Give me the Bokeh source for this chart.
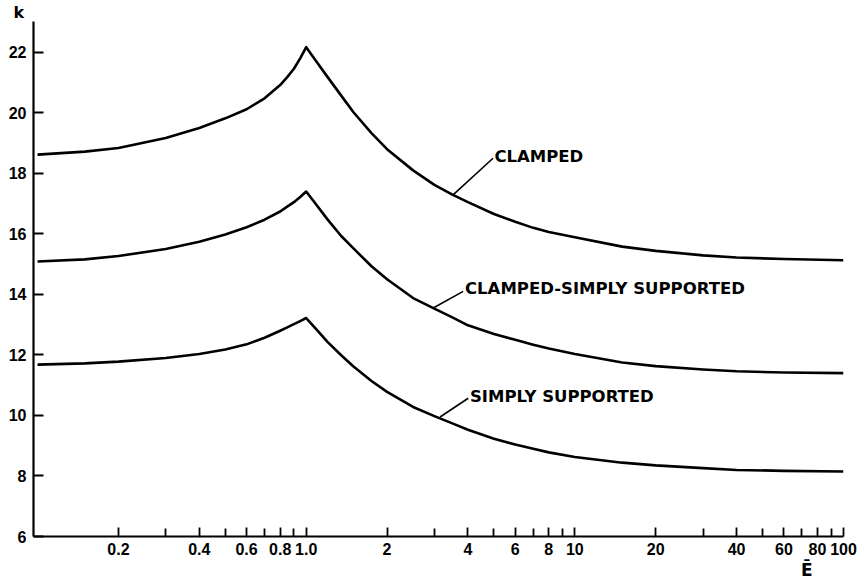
from bokeh.plotting import figure
from bokeh.models import FixedTicker, Label, Range1d, ColumnDataSource, Title
from bokeh.embed import file_html
from bokeh.resources import INLINE

# ---- data ----
E = [0.1, 0.15, 0.2, 0.3, 0.4, 0.5, 0.6, 0.7, 0.8, 0.85, 0.9, 0.95, 1.0,
     1.1, 1.2, 1.35, 1.5, 1.75, 2.0, 2.5, 3.0, 3.5, 4.0, 5.0, 6.0, 7.0, 8.0,
     10, 15, 20, 30, 40, 60, 100]
k_clamped = [18.62, 18.72, 18.84, 19.17, 19.5, 19.82, 20.12, 20.48, 20.92, 21.18, 21.46, 21.8, 22.17,
             21.66, 21.19, 20.57, 20.02, 19.33, 18.8, 18.1, 17.62, 17.3, 17.05, 16.66, 16.4, 16.2, 16.06,
             15.89, 15.58, 15.44, 15.29, 15.22, 15.17, 15.13]
k_clamped_ss = [15.09, 15.16, 15.27, 15.5, 15.74, 15.98, 16.22, 16.47, 16.74, 16.9, 17.05, 17.22, 17.4,
                16.92, 16.48, 15.93, 15.52, 14.93, 14.5, 13.88, 13.53, 13.24, 12.98, 12.69, 12.5, 12.34, 12.21,
                12.03, 11.75, 11.63, 11.52, 11.46, 11.42, 11.4]
k_ss = [11.68, 11.72, 11.78, 11.9, 12.03, 12.18, 12.35, 12.57, 12.8, 12.91, 13.02, 13.12, 13.22,
        12.81, 12.43, 11.99, 11.62, 11.14, 10.78, 10.28, 9.98, 9.74, 9.53, 9.23, 9.04, 8.9, 8.78,
        8.63, 8.44, 8.35, 8.26, 8.2, 8.17, 8.15]

curve_names = ["CLAMPED", "CLAMPED-SIMPLY SUPPORTED", "SIMPLY SUPPORTED"]
# leader lines: start on curve, end at label
leader_x0 = [3.53, 2.97, 3.15]
leader_y0 = [17.3, 13.55, 9.95]
leader_x1 = [4.96, 3.84, 4.01]
leader_y1 = [18.5, 14.1, 10.57]
label_x = [5.02, 3.9, 4.07]
label_y = [18.55, 14.18, 10.63]

x_major_ticks = [0.2, 0.4, 0.6, 0.8, 1, 2, 4, 6, 8, 10, 20, 40, 60, 80, 100]
x_major_labels = ["0.2", "0.4", "0.6", "0.8", "1.0", "2", "4", "6", "8", "10",
                  "20", "40", "60", "80", "100"]
x_minor_ticks = [0.3, 0.5, 0.7, 0.9, 3, 5, 7, 9, 30, 50, 70, 90]
y_ticks = [6, 8, 10, 12, 14, 16, 18, 20, 22]
y_title = "k"
x_title = "Ē"

FONT = "DejaVu Sans"
TICK_FONT = "Liberation Sans"

p = figure(width=863, height=588, x_axis_type="log",
           x_range=Range1d(0.0966, 100), y_range=Range1d(6, 23.02),
           output_backend="svg", toolbar_location=None,
           min_border_left=33, min_border_right=20, min_border_top=20,
           min_border_bottom=52)
p.outline_line_color = None
p.xgrid.visible = False
p.ygrid.visible = False
p.background_fill_color = "white"
p.border_fill_color = "white"

for ys in (k_clamped, k_clamped_ss, k_ss):
    p.line(E, ys, line_color="black", line_width=2.6, line_join="round")

src = ColumnDataSource(dict(x0=leader_x0, y0=leader_y0, x1=leader_x1, y1=leader_y1))
p.segment("x0", "y0", "x1", "y1", source=src, line_color="black", line_width=1.6)

for name, lx, ly in zip(curve_names, label_x, label_y):
    p.add_layout(Label(x=lx, y=ly, text=name, text_font=FONT, text_font_size="16.5px",
                       text_font_style="bold", text_baseline="middle", text_align="left",
                       text_color="black"))

# x axis
xa = p.xaxis[0]
xa.ticker = FixedTicker(ticks=x_major_ticks, minor_ticks=x_minor_ticks)
xa.major_label_overrides = {t: s for t, s in zip(x_major_ticks, x_major_labels)}
xa.major_tick_in = 9
xa.major_tick_out = 0
xa.minor_tick_in = 8
xa.minor_tick_out = 0
xa.axis_line_width = 2.2
xa.major_tick_line_width = 1.8
xa.minor_tick_line_width = 1.8
xa.major_label_text_font = TICK_FONT
xa.major_label_text_font_style = "bold"
xa.major_label_text_font_size = "16px"
xa.major_label_text_color = "black"
xa.major_label_standoff = 6

# y axis
ya = p.yaxis[0]
ya.ticker = FixedTicker(ticks=y_ticks, minor_ticks=[])
ya.major_tick_in = 10
ya.major_tick_out = 0
ya.minor_tick_in = 0
ya.minor_tick_out = 0
ya.axis_line_width = 2.2
ya.major_tick_line_width = 1.8
ya.major_label_text_font = TICK_FONT
ya.major_label_text_font_style = "bold"
ya.major_label_text_font_size = "16px"
ya.major_label_text_color = "black"
ya.major_label_standoff = 7

# axis titles as plot titles (outside the frame)
p.title.text = y_title
p.title.align = "left"
p.title.offset = -20
p.title.standoff = 0
p.title.text_font = FONT
p.title.text_font_size = "16px"
p.title.text_font_style = "bold"
p.title.text_color = "black"

p.add_layout(Title(text=x_title, align="right", offset=31, standoff=0,
                   text_font=FONT, text_font_size="17px", text_font_style="bold",
                   text_color="black"), "below")

open("out.html", "w").write(file_html(p, INLINE))
